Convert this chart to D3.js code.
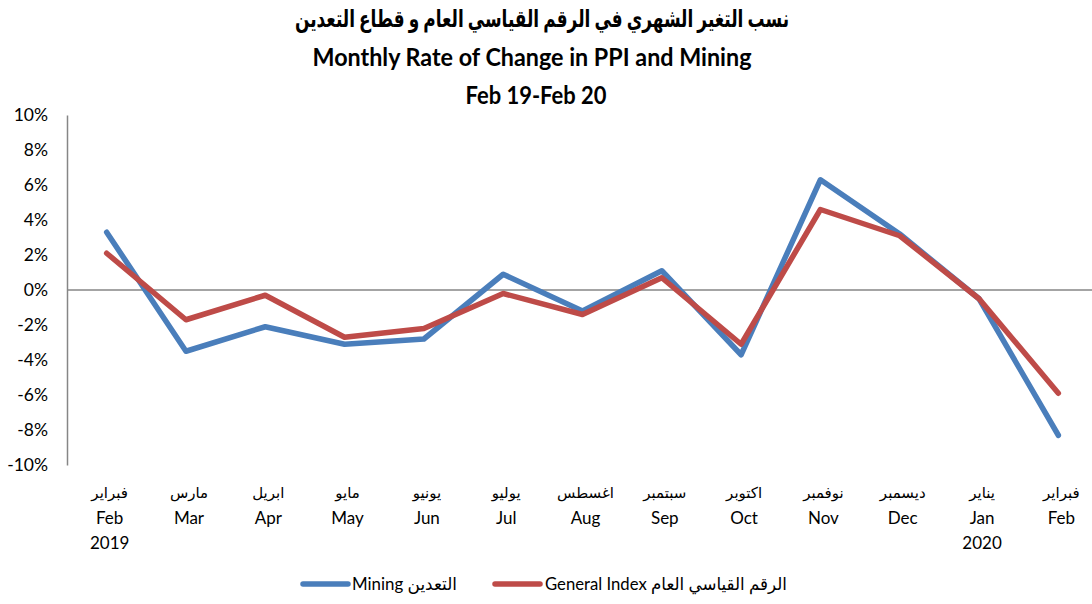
<!DOCTYPE html>
<html>
<head>
<meta charset="utf-8">
<script src="https://cdn.jsdelivr.net/npm/d3@7"></script>
<style>
  html, body { margin: 0; padding: 0; background: #fff; }
  svg { display: block; }
  text { font-family: Lato, "Liberation Sans", "DejaVu Sans", sans-serif; fill: #000; }
</style>
</head>
<body>
<svg id="chart" width="1092" height="604"></svg>
<script>
// ---- data ----
const monthsEn = ["Feb", "Mar", "Apr", "May", "Jun", "Jul", "Aug", "Sep", "Oct", "Nov", "Dec", "Jan", "Feb"];
const monthsAr = ["فبراير", "مارس", "ابريل", "مايو", "يونيو", "يوليو", "اغسطس", "سبتمبر", "اكتوبر", "نوفمبر", "ديسمبر", "يناير", "فبراير"];
const years = ["2019", "", "", "", "", "", "", "", "", "", "", "2020", ""];
const mining = [3.3, -3.5, -2.1, -3.1, -2.8, 0.9, -1.2, 1.1, -3.7, 6.3, 3.2, -0.5, -8.3];
const generalIndex = [2.1, -1.7, -0.3, -2.7, -2.2, -0.2, -1.4, 0.7, -3.1, 4.6, 3.1, -0.5, -5.9];
const yTicks = [-10, -8, -6, -4, -2, 0, 2, 4, 6, 8, 10];
const titleAr = "نسب التغير الشهري في الرقم القياسي العام و قطاع التعدين";
const titleEn = "Monthly Rate of Change in PPI and Mining";
const subtitle = "Feb 19-Feb 20";
const seriesNames = ["Mining التعدين", "General Index الرقم القياسي العام"];
const seriesColors = ["#4A7EBB", "#BE4B48"];

// ---- chart ----
const svg = d3.select("#chart");
const idx = d3.range(monthsEn.length);
const x = d3.scalePoint().domain(idx).range([67, 1098]).padding(0.5);
const y = d3.scaleLinear().domain([-10, 10]).range([465, 115]);

// titles
const titles = [
  {t: titleAr, y: 27, size: 24, len: 494, cx: 542},
  {t: titleEn, y: 66, size: 24, len: 439, cx: 532},
  {t: subtitle, y: 104, size: 24, len: 141, cx: 536}
];
svg.selectAll("text.title").data(titles).join("text")
  .attr("class", "title")
  .attr("x", d => d.cx).attr("y", d => d.y)
  .attr("text-anchor", "middle")
  .style("font-weight", "bold")
  .style("font-size", d => d.size + "px")
  .attr("textLength", d => d.len)
  .attr("lengthAdjust", "spacingAndGlyphs")
  .text(d => d.t);

// y axis
const yAxis = d3.axisLeft(y).tickValues(yTicks).tickSize(0).tickPadding(19).tickFormat(d => d + "%");
const gy = svg.append("g").attr("transform", "translate(67,0)").call(yAxis);
gy.select(".domain").attr("stroke", "#868686").attr("stroke-width", 1.5);
gy.selectAll(".tick text").style("font-size", "17.5px").style("font-family", "Lato, 'Liberation Sans', sans-serif").attr("fill", "#000");

// zero line (category axis)
svg.append("line")
  .attr("x1", 67).attr("x2", 1092)
  .attr("y1", y(0)).attr("y2", y(0))
  .attr("stroke", "#868686").attr("stroke-width", 1.5);

// x labels
const gx = svg.append("g");
const lab = gx.selectAll("g.lab").data(idx).join("g").attr("class", "lab")
  .attr("transform", i => `translate(${x(i) + 3},0)`);
lab.append("text").attr("y", 498).attr("text-anchor", "middle")
  .style("font-size", "15px").style("font-family", "'DejaVu Sans', sans-serif")
  .text(i => monthsAr[i]);
lab.append("text").attr("y", 524).attr("text-anchor", "middle")
  .style("font-size", "17px").text(i => monthsEn[i]);
lab.append("text").attr("y", 549).attr("text-anchor", "middle")
  .style("font-size", "17px").text(i => years[i]);

// lines
const line = d3.line().x((d, i) => x(i)).y(d => y(d));
[mining, generalIndex].forEach((s, k) => {
  svg.append("path").datum(s)
    .attr("d", line)
    .attr("fill", "none")
    .attr("stroke", seriesColors[k])
    .attr("stroke-width", 5.5)
    .attr("stroke-linejoin", "round")
    .attr("stroke-linecap", "round");
});

// legend
const legend = [
  {x1: 303, x2: 348, tx: 352, len: 105},
  {x1: 495, x2: 540, tx: 545, len: 242}
];
legend.forEach((L, k) => {
  svg.append("line").attr("x1", L.x1).attr("x2", L.x2).attr("y1", 584).attr("y2", 584)
    .attr("stroke", seriesColors[k]).attr("stroke-width", 5.5).attr("stroke-linecap", "round");
  svg.append("text").attr("x", L.tx).attr("y", 590)
    .style("font-size", "17.5px")
    .attr("textLength", L.len).attr("lengthAdjust", "spacingAndGlyphs")
    .text(seriesNames[k]);
});
</script>
</body>
</html>
